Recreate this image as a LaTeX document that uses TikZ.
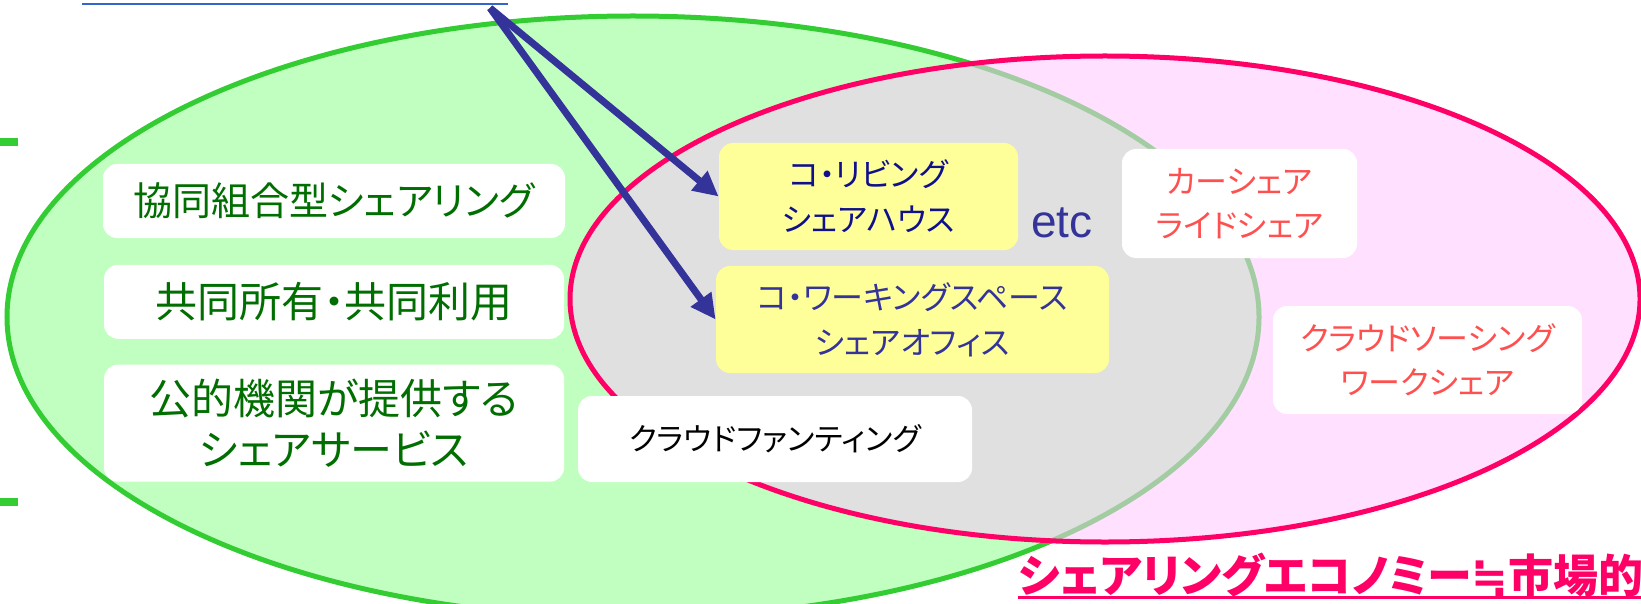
\documentclass[tikz,border=0pt]{standalone}
\usepackage{fontspec}
\setmainfont{Liberation Sans}
\newfontfamily\jp{Noto Sans CJK JP}[RawFeature=+palt]
\newfontfamily\symb{DejaVu Sans}
\usetikzlibrary{arrows.meta,positioning}
\definecolor{RingGreen}{HTML}{33CC33}
\definecolor{FillGreen}{HTML}{C0FFC0}
\definecolor{PaleRing}{HTML}{A3CCA3}
\definecolor{Overlap}{HTML}{E0E0E0}
\definecolor{RingPink}{HTML}{FF0066}
\definecolor{FillPink}{HTML}{FFE0FF}
\definecolor{Butter}{HTML}{FFFF99}
\definecolor{Leaf}{HTML}{006E00}
\definecolor{Navy}{HTML}{10108C}
\definecolor{Indigo}{HTML}{333399}
\definecolor{Coral}{HTML}{FF5050}
\definecolor{LinkBlue}{HTML}{3366CC}

\begin{document}
\begin{tikzpicture}[x=0.5pt,y=-0.5pt,
  card/.style={fill=white,rounded corners=7pt,align=center,inner sep=0pt},
  coopcard/.style={card,text=Leaf,minimum width=231pt,minimum height=37pt,font=\jp\fontsize{21}{25.5}\selectfont},
  sharecard/.style={card,fill=Butter,minimum height=53.5pt,font=\jp\fontsize{16}{22.5}\selectfont},
  marketcard/.style={card,text=Coral,minimum height=54.5pt,font=\jp\fontsize{16}{22}\selectfont},
  flow/.style={Indigo,line width=3.5pt,-{Triangle[length=12.5pt,width=12pt]}}
]
\useasboundingbox (0,0) rectangle (1641,604);
% circles
\fill[FillGreen] (633,317) ellipse [x radius=626,y radius=301];
\draw[RingGreen,line width=2.5pt] (633,317) ellipse [x radius=626,y radius=301];
\fill[FillPink] (1105,299) ellipse [x radius=535,y radius=243];
\begin{scope}
  \clip (1105,299) ellipse [x radius=535,y radius=243];
  \fill[Overlap] (633,317) ellipse [x radius=626,y radius=301];
  \draw[PaleRing,line width=2.5pt] (633,317) ellipse [x radius=626,y radius=301];
\end{scope}
\draw[RingPink,line width=2.5pt] (1105,299) ellipse [x radius=535,y radius=243];
\draw[RingGreen,line width=4pt] (0,142) -- (18,142);
\draw[RingGreen,line width=4pt] (0,502) -- (18,502);
% cards
\node[coopcard,font=\jp\fontsize{19.5}{24}\selectfont] (coop) at (334,201) {協同組合型シェアリング};
\node[coopcard,minimum width=230pt,below=13pt of coop] (joint) {共同所有・共同利用};
\node[coopcard,minimum width=230pt,minimum height=58.5pt,below=12.5pt of joint] (public) {公的機関が提供する\\シェアサービス};
\node[sharecard,text=Navy,minimum width=149.5pt] (colive) at (868.5,196.5) {コ・リビング\\シェアハウス};
\node[sharecard,text=Indigo,minimum width=196.5pt] (cowork) at (912.5,319.5) {コ・ワーキングスペース\\シェアオフィス};
\node[anchor=base west,inner sep=0pt,text=Indigo,font=\fontsize{23}{27}\selectfont] (etc) at (1031,237) {etc};
\node[card,minimum width=197pt,minimum height=43pt,font=\jp\fontsize{15.5}{19}\selectfont] (crowdfund) at (775,439) {クラウドファンティング};
\node[marketcard,minimum width=117.5pt] (car) at (1239.5,203.5) {カーシェア\\ライドシェア};
\node[marketcard,minimum width=154.5pt,minimum height=54pt] (crowdsrc) at (1427.5,360) {クラウドソーシング\\ワークシェア};
% links
\coordinate (src) at (490,8);
\draw[LinkBlue,line width=1pt] (82,4) -- (508,4);
\draw[flow] (src) -- (colive.west);
\draw[flow] (src) -- (cowork.west);
% caption
\node[anchor=base west,inner sep=0pt,text=RingPink,font=\jp\bfseries\fontsize{22.5}{27}\selectfont] (slogan) at (1018,592) {シェアリングエコノミー{\symb\bfseries\fontsize{22}{27}\selectfont ≒}市場的};
\draw[RingPink,line width=1.5pt] ([yshift=-2.5pt]slogan.base west) -- ([yshift=-2.5pt,xshift=8pt]slogan.base east);
\end{tikzpicture}
\end{document}
